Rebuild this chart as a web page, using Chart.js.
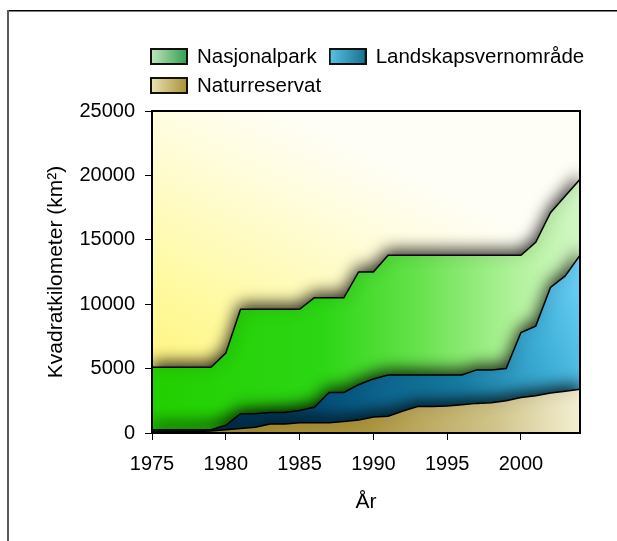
<!DOCTYPE html>
<html>
<head>
<meta charset="utf-8">
<title>Verneområder</title>
<script src="https://cdn.jsdelivr.net/npm/chart.js@4.4.1/dist/chart.umd.min.js"></script>
<style>
  body { margin: 0; background: #fff; }
  canvas { display: block; }
</style>
</head>
<body>
<canvas id="myChart" width="617" height="541"></canvas>
<script>
// areas per year, km2 (stacked: naturreservat at the bottom)
const years = [1975, 1976, 1977, 1978, 1979, 1980, 1981, 1982, 1983, 1984,
  1985, 1986, 1987, 1988, 1989, 1990, 1991, 1992, 1993, 1994,
  1995, 1996, 1997, 1998, 1999, 2000, 2001, 2002, 2003, 2004];
const naturreservat = [50, 80, 100, 120, 150, 250, 350, 450, 700, 700,
  800, 800, 800, 900, 1000, 1250, 1300, 1700, 2050, 2050,
  2100, 2200, 2300, 2350, 2500, 2750, 2900, 3100, 3250, 3400];
const landskapsvern = [200, 170, 150, 130, 100, 350, 1150, 1050, 900, 900,
  950, 1200, 2350, 2250, 2750, 2950, 3200, 2800, 2450, 2450,
  2400, 2300, 2600, 2550, 2500, 5050, 5400, 8200, 8950, 10400];
const nasjonalpark = [4850, 4850, 4850, 4850, 4850, 5600, 8100, 8100, 8000, 8000,
  7850, 8500, 7350, 7350, 8750, 8300, 9300, 9300, 9300, 9300,
  9300, 9300, 8900, 8900, 8800, 6000, 6500, 5800, 6200, 5900];
const yTicks = [0, 5000, 10000, 15000, 20000, 25000];
const xTicks = [1975, 1980, 1985, 1990, 1995, 2000];

const FONT = "'Liberation Sans', Arial, sans-serif";
Chart.defaults.font.family = FONT;
Chart.defaults.font.size = 19.5;
Chart.defaults.color = "#000";

const points = (vals) => years.map((yr, i) => ({ x: yr, y: vals[i] }));

// horizontal gradient over the plot area
function hGradient(chart, stops) {
  const { ctx, chartArea } = chart;
  if (!chartArea) return null;
  const g = ctx.createLinearGradient(chartArea.left, 0, chartArea.right, 0);
  stops.forEach((s) => g.addColorStop(s[0], s[1]));
  return g;
}

function blueGradient(chart) {
  const { ctx, chartArea, scales } = chart;
  if (!chartArea) return null;
  const g = ctx.createLinearGradient(chartArea.left, chartArea.bottom,
    chartArea.right, scales.y.getPixelForValue(14000));
  g.addColorStop(0, "#00233f");
  g.addColorStop(0.35, "#03507a");
  g.addColorStop(0.65, "#177da4");
  g.addColorStop(0.85, "#3fb0d8");
  g.addColorStop(1, "#72d4fa");
  return g;
}

// little gradient swatches for the legend
function swatch(c1, c2) {
  const c = document.createElement("canvas");
  c.width = 38;
  c.height = 17;
  const x = c.getContext("2d");
  const g = x.createLinearGradient(0, 0, 38, 0);
  g.addColorStop(0, c1);
  g.addColorStop(1, c2);
  x.fillStyle = g;
  x.fillRect(0, 0, 38, 17);
  x.strokeStyle = "#111";
  x.lineWidth = 2;
  x.strokeRect(1, 1, 36, 15);
  return c;
}

const datasets = [
  {
    label: "Naturreservat",
    data: points(naturreservat),
    swatch: swatch("#ece6b4", "#a68e34"),
    backgroundColor: (c) => hGradient(c.chart, [[0, "#a2882a"], [0.5, "#ad953e"], [0.8, "#d0c48a"], [1, "#f3efd2"]]),
  },
  {
    label: "Landskapsvernområde",
    data: points(landskapsvern),
    swatch: swatch("#5cc4e6", "#13708c"),
    backgroundColor: (c) => blueGradient(c.chart),
  },
  {
    label: "Nasjonalpark",
    data: points(nasjonalpark),
    swatch: swatch("#c4e6c0", "#2e9e4c"),
    backgroundColor: (c) => hGradient(c.chart, [[0, "#22d000"], [0.4, "#2cd614"], [0.62, "#66e24c"], [0.85, "#b2f29c"], [1, "#d2f6c4"]]),
  },
].map((d) => Object.assign(d, {
  fill: "origin",
  borderColor: "#000",
  borderWidth: 1.5,
  pointRadius: 0,
  tension: 0,
}));

// plot background, soft shadows under each area edge, frame round the plot
const plotDecor = {
  id: "plotDecor",
  beforeDraw(chart) {
    const { ctx } = chart;
    ctx.save();
    ctx.fillStyle = "#000";
    ctx.fillRect(7, 10, 610, 1.5);
    ctx.fillStyle = "#5a5a5a";
    ctx.fillRect(7, 10, 2, 531);
    ctx.restore();
  },
  beforeDatasetsDraw(chart) {
    const { ctx, chartArea: a, scales } = chart;
    const y0 = scales.y.getPixelForValue(5000);
    const g = ctx.createLinearGradient(a.left, y0, a.left + (a.right - a.left) * 0.3, a.top);
    g.addColorStop(0, "#fff680");
    g.addColorStop(0.35, "#fffaa8");
    g.addColorStop(0.7, "#fffcd6");
    g.addColorStop(1, "#fffef6");
    ctx.save();
    ctx.fillStyle = g;
    ctx.fillRect(a.left, a.top, a.right - a.left, a.bottom - a.top);
    ctx.restore();
    ctx.save();
    ctx.shadowColor = "rgba(0,0,0,0.85)";
    ctx.shadowBlur = 16;
    ctx.shadowOffsetY = -4;
  },
  afterDatasetsDraw(chart) {
    const { ctx, chartArea: a } = chart;
    ctx.restore();
    ctx.save();
    ctx.strokeStyle = "#000";
    ctx.lineWidth = 2;
    ctx.strokeRect(a.left, a.top, a.right - a.left, a.bottom - a.top);
    ctx.restore();
  },
  afterDraw(chart) {
    // legend: two items on the first row, the third wraps
    const { ctx } = chart;
    const order = chart.data.datasets.slice().reverse();
    let x = 150;
    let y = 48;
    ctx.save();
    ctx.font = "20.5px " + FONT;
    ctx.textBaseline = "middle";
    ctx.fillStyle = "#000";
    order.forEach((ds, i) => {
      if (i === 2) {
        x = 150;
        y += 29;
      }
      ctx.drawImage(ds.swatch, x, y);
      ctx.fillText(ds.label, x + 47, y + 9);
      x += 47 + ctx.measureText(ds.label).width + 12;
    });
    ctx.restore();
  },
};

const ctx = document.getElementById("myChart").getContext("2d");
const myChart = new Chart(ctx, {
  type: "line",
  data: { datasets: datasets },
  plugins: [plotDecor],
  options: {
    responsive: false,
    animation: false,
    layout: { padding: { top: 111, right: 37, bottom: 0, left: 0 } },
    plugins: {
      legend: { display: false },
      tooltip: { enabled: false },
    },
    scales: {
      x: {
        type: "linear",
        min: 1975,
        max: 2004,
        afterFit: (scale) => { scale.height = 108; },
        afterBuildTicks: (scale) => {
          scale.ticks = xTicks.map((v) => ({ value: v }));
        },
        ticks: { padding: 12, font: { size: 20 }, callback: (v) => String(v) },
        grid: { drawOnChartArea: false, tickLength: 7, tickColor: "#000", tickWidth: 1 },
        border: { color: "#000", width: 2 },
        title: { display: true, text: "År", font: { size: 21 }, padding: { top: 0, bottom: 26 } },
      },
      y: {
        stacked: true,
        min: 0,
        max: 25000,
        afterFit: (scale) => { scale.width = 152; },
        afterBuildTicks: (scale) => {
          scale.ticks = yTicks.map((v) => ({ value: v }));
        },
        ticks: { padding: 10, font: { size: 20 }, callback: (v) => String(v) },
        grid: { drawOnChartArea: false, tickLength: 7, tickColor: "#000", tickWidth: 1 },
        border: { color: "#000", width: 2 },
        title: { display: true, text: "Kvadratkilometer (km²)", font: { size: 21 }, padding: { top: 44, bottom: 0 } },
      },
    },
  },
});
</script>
</body>
</html>
